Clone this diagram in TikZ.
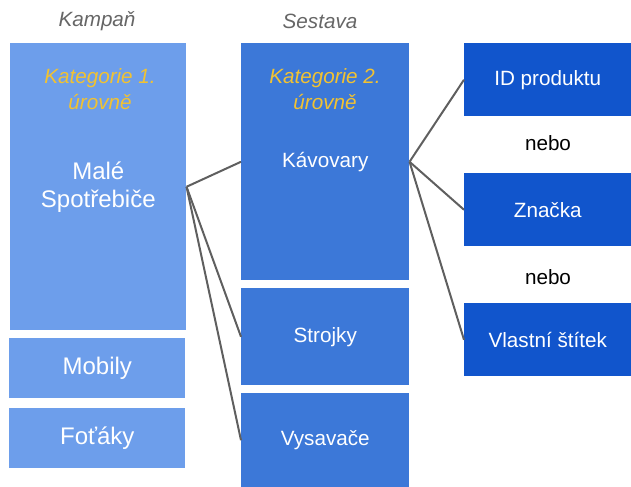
\documentclass[tikz,border=0pt]{standalone}
\usepackage{fontspec}
\setmainfont{Liberation Sans}
\definecolor{lightblue}{HTML}{6D9EEB}
\definecolor{midblue}{HTML}{3C78D8}
\definecolor{darkblue}{HTML}{1155CC}
\definecolor{katyellow}{HTML}{F1C232}
\definecolor{headgray}{HTML}{666666}
\definecolor{linegray}{HTML}{5F5F5F}
\begin{document}
\begin{tikzpicture}[x=0.75pt, y=-0.75pt,
        cell/.style 2 args={anchor=north west, inner sep=0pt, text=white, align=center,
            minimum width=#1*0.75pt, minimum height=#2*0.75pt,
            font=\fontsize{15.5}{21}\selectfont},
        big/.style={font=\fontsize{18}{21}\selectfont},
        head/.style={text=headgray, font=\fontsize{15.5}{21}\selectfont\itshape},
        kat/.style={text=katyellow, align=center, font=\fontsize{15.5}{19.5}\selectfont\itshape},
        link/.style={draw=linegray, line width=1.5pt}]
        \useasboundingbox (0,0) rectangle (631,486);
        
        %the main figure starts
        
        \node [head] (kampan) at (97,21) {Kampaň};
        \node [head] (sestava) at (320,21) {Sestava};
        
        \node [cell={176}{287}, big, fill=lightblue] (male) at (10,43) {Malé\\Spotřebiče};
        \node [cell={176}{60}, big, fill=lightblue] (mobily) at (9,338) {Mobily};
        \node [cell={176}{60}, big, fill=lightblue] (fotaky) at (9,408) {Foťáky};
        \node [kat] (kat1) at (100,89) {Kategorie 1.\\úrovně};
        
        \node [cell={168}{237}, fill=midblue] (kavovary) at (241,43) {Kávovary};
        \node [cell={168}{97}, fill=midblue] (strojky) at (241,288) {Strojky};
        \node [cell={168}{94}, fill=midblue] (vysavace) at (241,393) {Vysavače};
        \node [kat] (kat2) at (325,89) {Kategorie 2.\\úrovně};
        
        \node [cell={167}{73}, fill=darkblue] (id) at (464,43) {ID produktu};
        \node [cell={167}{73}, fill=darkblue] (znacka) at (464,173) {Značka};
        \node [cell={167}{73}, fill=darkblue] (stitek) at (464,303) {Vlastní štítek};
        \node [font=\fontsize{15.5}{21}\selectfont] (nebo1) at (548,143) {nebo};
        \node [font=\fontsize{15.5}{21}\selectfont] (nebo2) at (548,277) {nebo};
        
        \draw [link] (male.east) -- (kavovary.west);
        \draw [link] (male.east) -- (strojky.west);
        \draw [link] (male.east) -- (vysavace.west);
        
        \draw [link] (kavovary.east) -- (id.west);
        \draw [link] (kavovary.east) -- (znacka.west);
        \draw [link] (kavovary.east) -- (stitek.west);
        
    \end{tikzpicture}
\end{document}
